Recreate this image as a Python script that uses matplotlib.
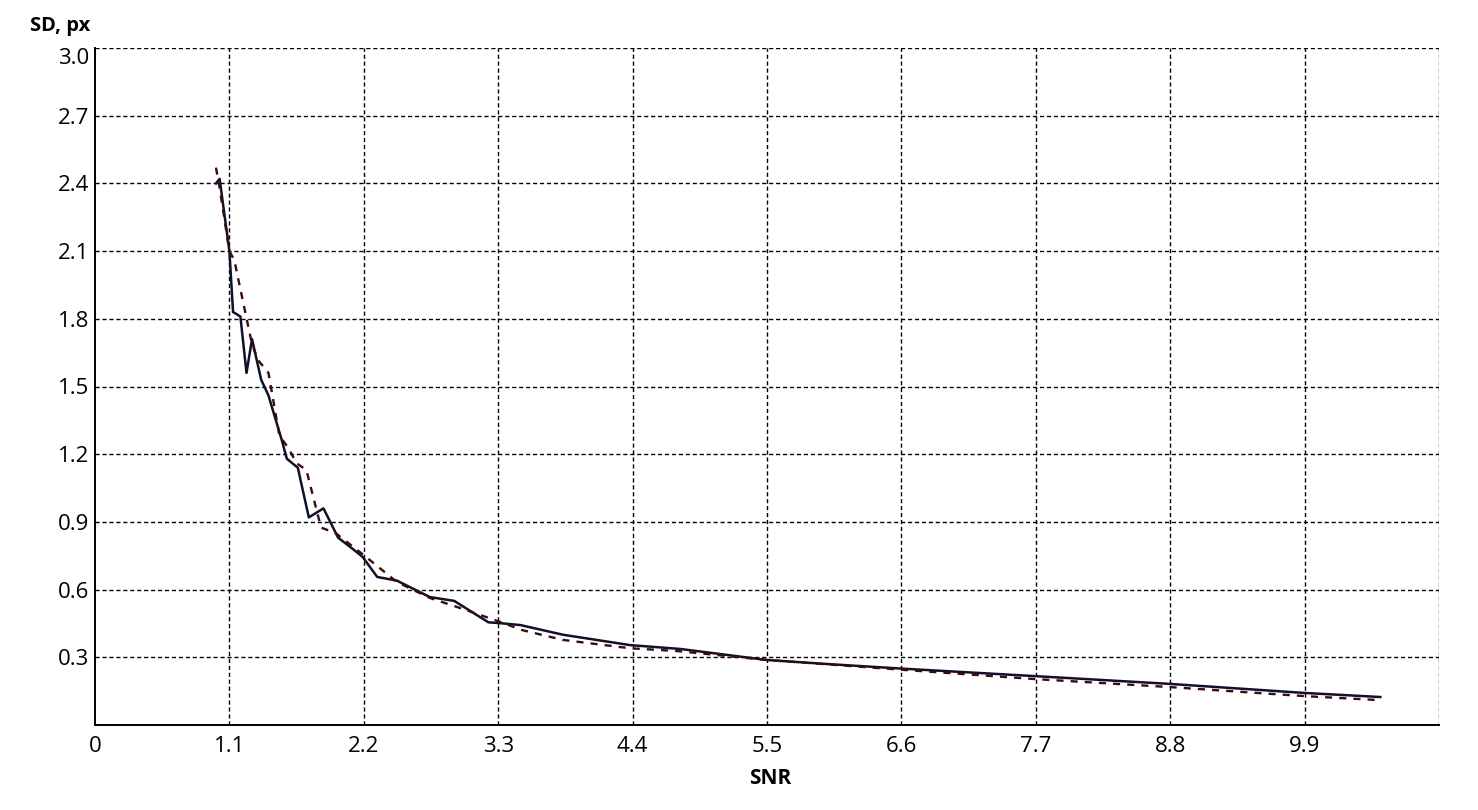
import numpy as np
import matplotlib
matplotlib.use("Agg")
import matplotlib.pyplot as plt

plt.rcParams['font.family'] = ['Open Sans', 'DejaVu Sans']

# ───── data ─────
snr_solid = [0.99, 1.02, 1.10, 1.13, 1.19, 1.24, 1.285, 1.36, 1.42, 1.53, 1.57,
             1.66, 1.75, 1.87, 1.99, 2.11, 2.19, 2.31, 2.47, 2.74, 2.94, 3.22,
             3.30, 3.48, 3.83, 4.38, 4.79, 5.5, 6.0, 6.6, 7.68, 8.8, 9.9, 10.52]
sd_solid = [2.40, 2.42, 2.10, 1.83, 1.81, 1.56, 1.71, 1.53, 1.46, 1.26, 1.18,
            1.14, 0.92, 0.96, 0.83, 0.78, 0.745, 0.656, 0.64, 0.567, 0.55, 0.455,
            0.452, 0.443, 0.40, 0.354, 0.337, 0.288, 0.27, 0.25, 0.217, 0.182, 0.142, 0.124]

snr_dash = [0.99, 1.02, 1.10, 1.14, 1.28, 1.33, 1.42, 1.51, 1.58, 1.65, 1.73,
            1.85, 1.97, 2.19, 2.47, 2.74, 2.99, 3.30, 3.50, 3.83, 4.38, 4.76,
            5.5, 6.6, 7.68, 8.8, 9.9, 10.52]
sd_dash = [2.47, 2.38, 2.10, 2.06, 1.70, 1.62, 1.56, 1.28, 1.23, 1.16, 1.13,
           0.875, 0.85, 0.757, 0.634, 0.563, 0.518, 0.46, 0.42, 0.377, 0.34, 0.328,
           0.288, 0.245, 0.204, 0.168, 0.128, 0.11]

x_ticks = [0, 1.1, 2.2, 3.3, 4.4, 5.5, 6.6, 7.7, 8.8, 9.9]
x_grid = [1.1, 2.2, 3.3, 4.4, 5.5, 6.6, 7.7, 8.8, 9.9, 11.0]
y_ticks = [0.3, 0.6, 0.9, 1.2, 1.5, 1.8, 2.1, 2.4, 2.7, 3.0]

# ───── figure ─────
fig = plt.figure(figsize=(14.78, 8.10), dpi=100)
ax = fig.add_axes([95/1478, 85/810, (1439-95)/1478, (725-48)/810])

for xv in x_grid:
    ax.axvline(xv, color="black", lw=1, ls=(0, (3, 2)), zorder=1)
for yv in y_ticks:
    ax.axhline(yv, color="black", lw=1, ls=(0, (3, 2)), zorder=1)

ax.plot(snr_solid, sd_solid, color="#10102a", lw=1.8, zorder=3)
ax.plot(snr_dash, sd_dash, color="#3c0c0c", lw=1.7, ls=(0, (3, 3)), zorder=4)

ax.set_xlim(0, 11.0)
ax.set_ylim(0, 3.0)
ax.set_xticks(x_ticks)
ax.set_xticklabels([f"{v:g}" for v in x_ticks])
ax.set_yticks(y_ticks)
ax.set_yticklabels([f"{v:.1f}" for v in y_ticks])
ax.tick_params(axis="x", length=0, labelsize=16, pad=8)
ax.tick_params(axis="y", length=0, labelsize=16, pad=4)
# top label sits a bit below its grid line, as in the reference
ax.get_yticklabels()[-1].set_va("top")

for s in ("top", "right"):
    ax.spines[s].set_visible(False)
for s in ("left", "bottom"):
    ax.spines[s].set_linewidth(1.4)

fig.text(60/1478, 1 - 26/810, "SD, px", ha="center", va="center",
         fontsize=14.5, fontweight="bold")
fig.text(770/1478, 1 - 778/810, "SNR", ha="center", va="center",
         fontsize=15, fontweight="bold")

fig.savefig("out.png", dpi=100, facecolor="white")
